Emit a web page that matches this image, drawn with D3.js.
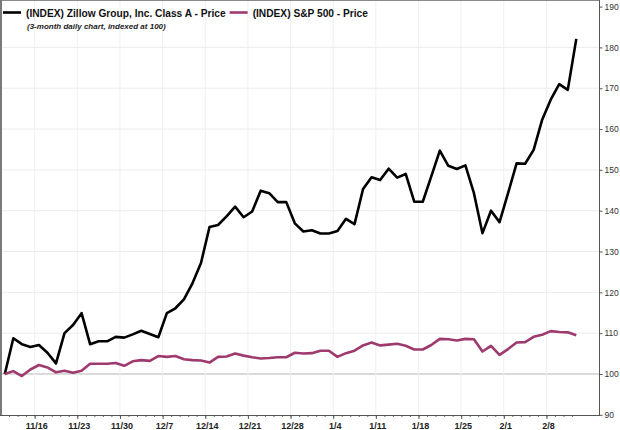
<!DOCTYPE html>
<html>
<head>
<meta charset="utf-8">
<script src="https://cdn.jsdelivr.net/npm/d3@7"></script>
<style>
  html, body { margin: 0; padding: 0; background: #fff; }
  svg { display: block; font-family: "Liberation Sans", Arial, sans-serif; }
</style>
</head>
<body>
<svg id="chart" width="620" height="430"></svg>
<script>
// ---- data ----
const dates = ["11/10","11/11","11/12","11/13",
  "11/16","11/17","11/18","11/19","11/20",
  "11/23","11/24","11/25","11/26","11/27",
  "11/30","12/1","12/2","12/3","12/4",
  "12/7","12/8","12/9","12/10","12/11",
  "12/14","12/15","12/16","12/17","12/18",
  "12/21","12/22","12/23","12/24","12/25",
  "12/28","12/29","12/30","12/31","1/1",
  "1/4","1/5","1/6","1/7","1/8",
  "1/11","1/12","1/13","1/14","1/15",
  "1/18","1/19","1/20","1/21","1/22",
  "1/25","1/26","1/27","1/28","1/29",
  "2/1","2/2","2/3","2/4","2/5",
  "2/8","2/9","2/10","2/11"];
const tickLabels = ["11/16","11/23","11/30","12/7","12/14","12/21","12/28","1/4","1/11","1/18","1/25","2/1","2/8"];
const zillow = [100,108.75,107.3,106.6,107.1,105.2,102.6,110.0,112.0,114.9,
  107.3,108.0,108.0,109.1,108.9,109.7,110.6,109.8,109.0,114.9,
  116.1,118.3,122.2,127.2,136.0,136.5,138.6,141.0,138.4,139.8,
  144.9,144.3,142.1,142.1,136.9,134.9,135.2,134.4,134.4,135.0,
  138.0,136.7,145.3,148.2,147.5,150.3,148.1,149.0,142.2,142.2,
  148.4,154.7,151.0,150.2,151.1,144.3,134.5,140.0,137.2,144.3,
  151.6,151.5,154.9,162.3,167.2,171.0,169.6,182.1];
const sp500 = [100,100.7,99.5,101.1,102.2,101.6,100.4,100.8,100.3,100.8,
  102.5,102.5,102.5,102.7,102.0,103.1,103.4,103.2,104.4,104.2,
  104.4,103.6,103.4,103.3,102.8,104.2,104.3,105.0,104.5,104.1,
  103.8,103.9,104.1,104.1,105.2,105.0,105.1,105.7,105.7,104.2,
  105.1,105.7,107.0,107.7,107.0,107.2,107.4,106.9,106.0,106.0,
  107.1,108.6,108.5,108.2,108.6,108.5,105.5,106.9,104.7,106.1,
  107.7,107.8,109.1,109.6,110.5,110.3,110.2,109.5];
const yTicks = [90,100,110,120,130,140,150,160,170,180,190];
const seriesNames = ["(INDEX) Zillow Group, Inc. Class A - Price", "(INDEX) S&P 500 - Price"];
const seriesColors = ["#000000", "#9e3a6e"];
const subtitle = "(3-month daily chart, indexed at 100)";

// ---- layout ----
const svg = d3.select("#chart");
const plotRight = 599, plotBottom = 415;
const x = d3.scaleLinear().domain([0, dates.length - 1]).range([4.8, 576.3]);
const y = d3.scaleLinear().domain([90, 190]).range([414.8, 6.6]);

// grid
const grid = svg.append("g");
grid.selectAll("line.h").data(yTicks.filter(v => v > 90 && v < 190)).enter()
  .append("line")
  .attr("x1", 0).attr("x2", plotRight)
  .attr("y1", d => y(d)).attr("y2", d => y(d))
  .attr("stroke", d => d === 100 ? "#b5b5b5" : "#ececec")
  .attr("stroke-width", 1);
const mondayIdx = tickLabels.map(l => dates.indexOf(l));
grid.selectAll("line.v").data(mondayIdx).enter()
  .append("line")
  .attr("x1", d => x(d - 0.5)).attr("x2", d => x(d - 0.5))
  .attr("y1", 0).attr("y2", plotBottom)
  .attr("stroke", "#efefef").attr("stroke-width", 1);

// lines
const line = d3.line().x((d, i) => x(i)).y(d => y(d));
svg.append("path").datum(zillow).attr("d", line)
  .attr("fill", "none").attr("stroke", seriesColors[0])
  .attr("stroke-width", 2.6).attr("stroke-linejoin", "round");
svg.append("path").datum(sp500).attr("d", line)
  .attr("fill", "none").attr("stroke", seriesColors[1])
  .attr("stroke-width", 2.6).attr("stroke-linejoin", "round");

// frame
svg.append("line").attr("x1", 0).attr("x2", plotRight).attr("y1", 0.5).attr("y2", 0.5)
  .attr("stroke", "#8a8a8a").attr("stroke-width", 1);
svg.append("line").attr("x1", 1).attr("x2", 1).attr("y1", 0).attr("y2", plotBottom)
  .attr("stroke", "#7a7a7a").attr("stroke-width", 2);

// x axis: minor ticks
const xMinor = d3.axisBottom(x).tickValues(d3.range(dates.length).map(i => i - 0.5).filter(v => v > 0))
  .tickSize(2).tickFormat("");
const gxm = svg.append("g").attr("transform", `translate(0,${plotBottom})`).call(xMinor);
gxm.select(".domain").remove();
gxm.selectAll("line").attr("stroke", "#666");

const xMajor = d3.axisBottom(x).tickValues(mondayIdx.map(i => i - 0.5))
  .tickSize(4).tickPadding(4).tickFormat((d, i) => tickLabels[i]);
const gx = svg.append("g").attr("transform", `translate(0,${plotBottom})`).call(xMajor);
gx.select(".domain").remove();
gx.selectAll("line").attr("stroke", "#555");
gx.selectAll("text").attr("font-size", 9).attr("font-weight", "bold")
  .attr("font-family", "'Liberation Sans', Arial, sans-serif")
  .attr("fill", "#222").attr("dx", 1.5);

svg.append("line").attr("x1", 0).attr("x2", plotRight + 0.5).attr("y1", plotBottom + 0.5).attr("y2", plotBottom + 0.5)
  .attr("stroke", "#555").attr("stroke-width", 1);

// y axis (right)
const yAxis = d3.axisRight(y).tickValues(yTicks).tickSize(3).tickPadding(2).tickFormat(d3.format("d"));
const gy = svg.append("g").attr("transform", `translate(${plotRight + 0.5},0)`).call(yAxis);
gy.select(".domain").remove();
gy.selectAll("line").attr("stroke", "#555");
gy.selectAll("text").attr("font-size", 8.5)
  .attr("font-family", "'Liberation Sans', Arial, sans-serif").attr("fill", "#333");
svg.append("line").attr("x1", plotRight + 0.5).attr("x2", plotRight + 0.5).attr("y1", 0).attr("y2", plotBottom + 1)
  .attr("stroke", "#555").attr("stroke-width", 1);

// legend
const leg = svg.append("g");
const legX = [3, 227];
seriesNames.forEach((name, i) => {
  leg.append("line").attr("x1", legX[i]).attr("x2", legX[i] + 18)
    .attr("y1", 12.5).attr("y2", 12.5)
    .attr("stroke", seriesColors[i]).attr("stroke-width", 2.6);
  const t = leg.append("text").attr("x", legX[i] + 23).attr("y", 16.5)
    .attr("font-size", 10.2).attr("font-weight", "bold").attr("fill", "#111")
    .text(name);
  if (i === 0) {
    const w = t.node().getComputedTextLength();
    legX[1] = legX[0] + 23 + w + 4;
  }
});
leg.append("text").attr("x", 27).attr("y", 28.5)
  .attr("font-size", 8).attr("font-weight", "bold").attr("font-style", "italic")
  .attr("fill", "#222").text(subtitle);
</script>
</body>
</html>
